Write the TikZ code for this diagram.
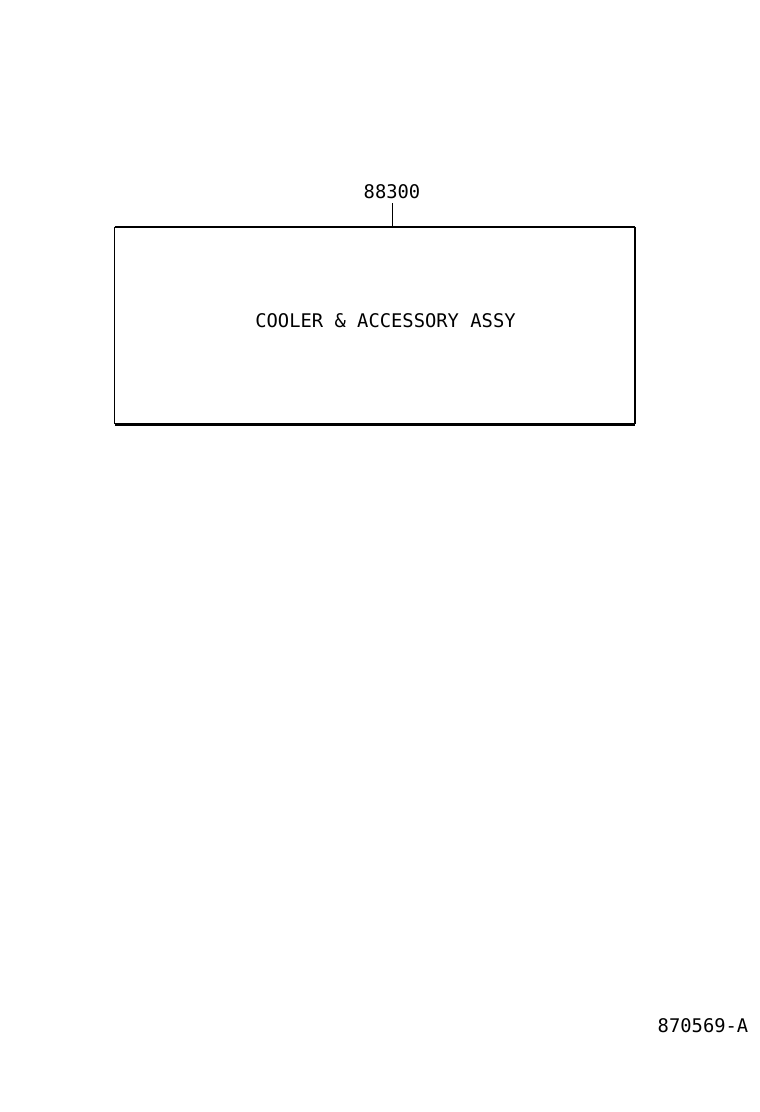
\documentclass[tikz,border=0pt]{standalone}
\usepackage{fontspec}
\newfontfamily\plotfont{DejaVu Sans Mono}
\begin{document}
\begin{tikzpicture}[x=1pt,y=-1pt,
  lbl/.style={font=\plotfont\fontsize{18.8}{20}\selectfont, inner sep=0pt, anchor=center},
  frame/.style={minimum width=520pt, minimum height=197pt, inner sep=0pt, anchor=center}]
\useasboundingbox (0,0) rectangle (760,1112);
\node[frame] (box) at (375,325.5) {};
\node[lbl] (num) at (392,192) {88300};
\node[lbl] (title) at (385.5,321) {COOLER \& ACCESSORY ASSY};
\node[lbl] (code) at (703,1026) {870569-A};
\draw[line width=1pt] (box.north west) -- (box.south west);
\draw[line width=1.6pt] (box.north west) -- (box.north east);
\draw[line width=2pt] (box.north east) -- (box.south east);
\draw[line width=3pt] (box.south west) -- (box.south east);
\draw[line width=1pt] (num.south) ++(0,4) coordinate (t) -- (t |- box.north);
\end{tikzpicture}
\end{document}
